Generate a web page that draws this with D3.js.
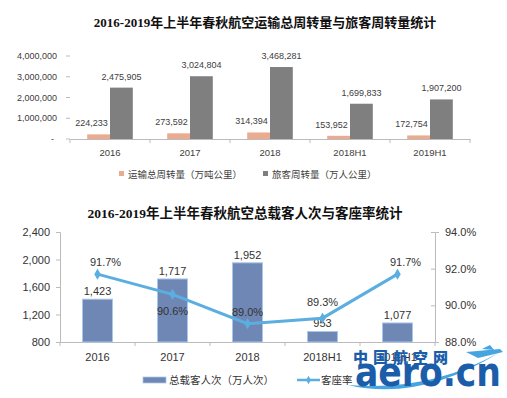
<!DOCTYPE html>
<html><head><meta charset="utf-8">
<script src="https://cdn.jsdelivr.net/npm/d3@7"></script>
<style>
html,body{margin:0;padding:0;background:#fff;}
svg{display:block;}
text{font-family:"Liberation Sans","Noto Sans CJK SC",sans-serif;}
</style></head>
<body>
<svg id="c" width="507" height="398"></svg>
<script>
// ---- data ----
const topTitle = "2016-2019年上半年春秋航空运输总周转量与旅客周转量统计";
const topCategories = ["2016","2017","2018","2018H1","2019H1"];
const freightTurnover = [224233, 273592, 314394, 153952, 172754];
const passengerTurnover = [2475905, 3024804, 3468281, 1699833, 1907200];
const topSeriesNames = ["运输总周转量（万吨公里）","旅客周转量（万人公里）"];
const topTicks = [0, 1000000, 2000000, 3000000, 4000000];

const bottomTitle = "2016-2019年上半年春秋航空总载客人次与客座率统计";
const bottomCategories = ["2016","2017","2018","2018H1","2019H1"];
const passengers = [1423, 1717, 1952, 953, 1077];
const loadFactor = [91.7, 90.6, 89.0, 89.3, 91.7];
const bottomSeriesNames = ["总载客人次（万人次）","客座率"];
const leftTicks = [800, 1200, 1600, 2000, 2400];
const rightTicks = [88, 90, 92, 94];
const lfLabelPos = ["above","below","above","above","above"];

const svg = d3.select("#c");
const fmt = d3.format(",");

// ================= TOP CHART =================
svg.append("text").attr("x",265).attr("y",27).attr("text-anchor","middle")
  .style("font-family",'"Liberation Serif","Noto Sans CJK SC",serif')
  .style("font-weight","bold").style("font-size","13px").attr("fill","#111")
  .text(topTitle);

const x0 = d3.scaleBand().domain(topCategories).range([70,470])
  .paddingInner(0.43).paddingOuter(0.215);
const x1 = d3.scaleBand().domain([0,1]).range([0, x0.bandwidth()]);
const yT = d3.scaleLinear().domain([0,4000000]).range([139,56]);
const topColors = ["#EBAB91","#7F7F7F"];

// y ticks
const gy = svg.append("g");
topTicks.forEach(t=>{
  gy.append("line").attr("x1",66).attr("x2",70).attr("y1",yT(t)).attr("y2",yT(t))
    .attr("stroke","#bbb");
  gy.append("text").attr("x", t===0?54:57).attr("y",yT(t)+3).attr("text-anchor","end")
    .style("font-size","9px").attr("fill","#404040").text(t===0?"-":fmt(t));
});
// x axis
const xAxisTop = d3.axisBottom(x0).tickSize(0).tickPadding(10);
const gxT = svg.append("g").attr("transform","translate(0,139)").call(xAxisTop);
gxT.select(".domain").attr("stroke","#bbb");
gxT.selectAll("text").style("font-size","9.5px").attr("fill","#404040")
  .style("font-family",'"Liberation Sans",sans-serif');
const stepT = x0.step();
d3.range(topCategories.length+1).forEach(i=>{
  const xx = 70 + i*stepT;
  svg.append("line").attr("x1",xx).attr("x2",xx).attr("y1",139).attr("y2",143).attr("stroke","#bbb");
});

[freightTurnover, passengerTurnover].forEach((vals,si)=>{
  svg.append("g").selectAll("rect").data(vals).join("rect")
    .attr("x",(d,i)=>x0(topCategories[i])+x1(si))
    .attr("width",x1.bandwidth())
    .attr("y",d=>yT(d)).attr("height",d=>yT(0)-yT(d))
    .attr("fill",topColors[si]);
  svg.append("g").selectAll("text").data(vals).join("text")
    .attr("x",(d,i)=>x0(topCategories[i])+x1(si)+x1.bandwidth()/2 + (si===0?-7:0))
    .attr("y",d=>yT(d)-8)
    .attr("text-anchor","middle").style("font-size","9px").attr("fill","#404040")
    .text(d=>fmt(d));
});

// top legend
const lgT = [{x:119, name:topSeriesNames[0], c:topColors[0]},{x:263, name:topSeriesNames[1], c:topColors[1]}];
lgT.forEach(l=>{
  svg.append("rect").attr("x",l.x).attr("y",171).attr("width",5).attr("height",5).attr("fill",l.c);
  svg.append("text").attr("x",l.x+9).attr("y",178).style("font-size","9.5px")
    .attr("fill","#404040").text(l.name);
});

// ================= BOTTOM CHART =================
svg.append("text").attr("x",245).attr("y",218).attr("text-anchor","middle")
  .style("font-family",'"Liberation Serif","Noto Sans CJK SC",serif')
  .style("font-weight","bold").style("font-size","13.5px").attr("fill","#111")
  .text(bottomTitle);

const xB = d3.scaleBand().domain(bottomCategories).range([60,435])
  .paddingInner(0.6).paddingOuter(0.3);
const yL = d3.scaleLinear().domain([800,2400]).range([342,232]);
const yR = d3.scaleLinear().domain([88,94]).range([342,232]);
const barColor = "#6F87B5", lineColor = "#5BAEE0";

const gl = svg.append("g").attr("transform","translate(60,0)")
  .call(d3.axisLeft(yL).tickValues(leftTicks).tickFormat(fmt).tickSize(4).tickPadding(6));
gl.select(".domain").attr("stroke","#bbb");
gl.selectAll(".tick line").attr("stroke","#bbb");
gl.selectAll("text").style("font-size","11px").attr("fill","#333");

const gr = svg.append("g").attr("transform","translate(435,0)")
  .call(d3.axisRight(yR).tickValues(rightTicks).tickFormat(d=>d.toFixed(1)+"%").tickSize(4).tickPadding(6));
gr.select(".domain").attr("stroke","#bbb");
gr.selectAll(".tick line").attr("stroke","#bbb").attr("x2",-4);
gr.selectAll("text").style("font-size","11px").attr("fill","#333");

const gxB = svg.append("g").attr("transform","translate(0,342)")
  .call(d3.axisBottom(xB).tickSize(0).tickPadding(11));
gxB.select(".domain").attr("stroke","#bbb");
gxB.selectAll("text").style("font-size","11px").attr("fill","#333");
d3.range(bottomCategories.length+1).forEach(i=>{
  const xx = 60 + i*xB.step();
  svg.append("line").attr("x1",xx).attr("x2",xx).attr("y1",342).attr("y2",346).attr("stroke","#bbb");
});

svg.append("g").selectAll("rect").data(passengers).join("rect")
  .attr("x",(d,i)=>xB(bottomCategories[i])).attr("width",xB.bandwidth())
  .attr("y",d=>yL(d)).attr("height",d=>yL(800)-yL(d))
  .attr("fill",barColor).attr("stroke","#A8C8EA").attr("stroke-width",1);

svg.append("g").selectAll("text").data(passengers).join("text")
  .attr("x",(d,i)=>xB(bottomCategories[i])+xB.bandwidth()/2)
  .attr("y",d=>yL(d)-4)
  .attr("text-anchor","middle").style("font-size","11px").attr("fill","#333")
  .text(d=>fmt(d));

const cx = (d,i)=>xB(bottomCategories[i])+xB.bandwidth()/2;
const line = d3.line().x((d,i)=>cx(d,i)).y(d=>yR(d));
svg.append("path").datum(loadFactor).attr("d",line).attr("fill","none")
  .attr("stroke",lineColor).attr("stroke-width",3);
svg.append("g").selectAll("path").data(loadFactor).join("path")
  .attr("transform",(d,i)=>`translate(${cx(d,i)},${yR(d)})`)
  .attr("d",d3.symbol(d3.symbolDiamond,36)).attr("fill",lineColor);

svg.append("g").selectAll("text").data(loadFactor).join("text")
  .attr("x",(d,i)=>cx(d,i) + (i===0||i===4?8:0))
  .attr("y",(d,i)=> lfLabelPos[i]==="below" ? yR(d)+21 : yR(d)-8 - (i===3?4:0))
  .attr("text-anchor","middle").style("font-size","11px").attr("fill","#333")
  .text(d=>d.toFixed(1)+"%");

// bottom legend
svg.append("rect").attr("x",143).attr("y",377).attr("width",23).attr("height",6)
  .attr("fill",barColor).attr("stroke","#A8C8EA").attr("stroke-width",0.8);
svg.append("text").attr("x",169).attr("y",384).style("font-size","10.5px").attr("fill","#333")
  .text(bottomSeriesNames[0]);
svg.append("line").attr("x1",297).attr("x2",320).attr("y1",380).attr("y2",380)
  .attr("stroke",lineColor).attr("stroke-width",2.5);
svg.append("path").attr("transform","translate(308.5,380)")
  .attr("d",d3.symbol(d3.symbolDiamond,20)).attr("fill",lineColor);
svg.append("text").attr("x",321).attr("y",384).style("font-size","10.5px").attr("fill","#333")
  .text(bottomSeriesNames[1]);

// ---- watermark ----
const wm = svg.append("g");
wm.append("text").attr("x",353).attr("y",363).attr("textLength",95).attr("lengthAdjust","spacing")
  .style("font-family",'"Noto Sans CJK SC",sans-serif').style("font-weight","900")
  .style("font-size","15px").attr("fill","#1C5DAA").text("中国航空网");
wm.append("path").attr("d","M 348 385 Q 420 402 500 352 Q 430 392 348 385 Z").attr("fill","#45A5E0");
wm.append("text").attr("x",355).attr("y",386).attr("textLength",146).attr("lengthAdjust","spacingAndGlyphs")
  .style("font-family",'"DejaVu Sans",sans-serif').style("font-weight","bold")
  .style("font-size","40px").attr("fill","#1C5DAA").text("aero.cn");
wm.append("path").attr("d","M 466 352 L 500 349 L 503 352 L 478 358 Z M 482 349 L 490 345 L 494 350 Z").attr("fill","#45A5E0");
</script>
</body></html>
